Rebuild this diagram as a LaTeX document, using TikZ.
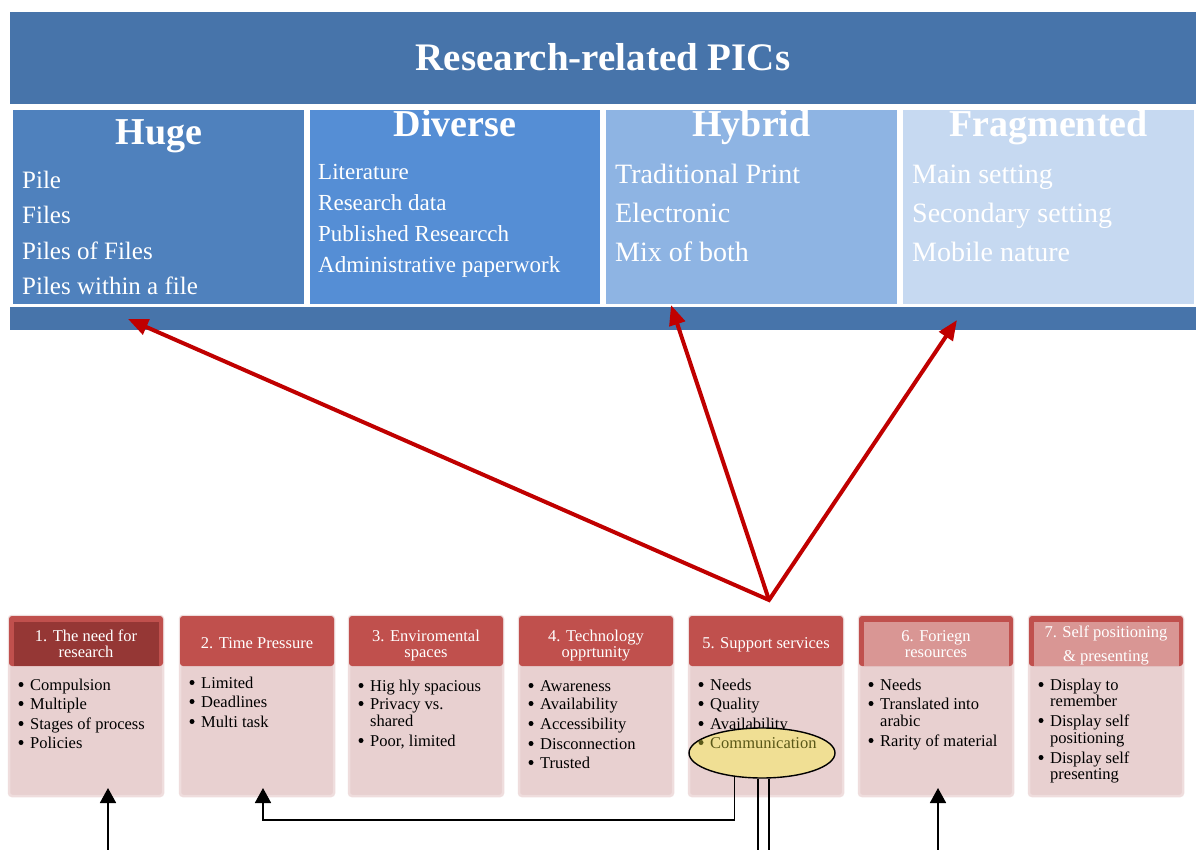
\documentclass[tikz,border=0pt]{standalone}
\usepackage{fontspec}
\setmainfont{Liberation Serif}
\usetikzlibrary{arrows.meta,shapes.geometric}
\definecolor{banner}{HTML}{4774AA}
\definecolor{colA}{HTML}{4F81BD}
\definecolor{colB}{HTML}{558ED5}
\definecolor{colC}{HTML}{8EB4E3}
\definecolor{colD}{HTML}{C6D9F1}
\definecolor{hdr}{HTML}{C0504D}
\definecolor{hdrdark}{HTML}{953735}
\definecolor{hdrlight}{HTML}{D99694}
\definecolor{bodyfill}{HTML}{E8D0D0}
\definecolor{bodyrim}{HTML}{EFDDDD}
\definecolor{arrowred}{HTML}{C00000}
\definecolor{ellfill}{HTML}{F0DF94}
\definecolor{olivetext}{HTML}{5A5818}
\newcommand\bul[4]{%
  \node[bulletdot] (#1b) at ({#2-1},{#3-5.5}) {};
  \node[bitem] (#1) at ({#2+8},#3) {#4};}
\begin{document}
\begin{tikzpicture}[x=1pt,y=-1pt,
  panel/.style={inner sep=0pt,outer sep=0pt,anchor=north west,draw=none},
  ctitle/.style={text=white,font=\fontsize{38}{44}\selectfont\bfseries,anchor=base,inner sep=0pt},
  itemA/.style={text=white,font=\fontsize{25}{30}\selectfont,anchor=base west,inner sep=0pt},
  itemB/.style={text=white,font=\fontsize{23}{28}\selectfont,anchor=base west,inner sep=0pt},
  itemC/.style={text=white,font=\fontsize{28}{32}\selectfont,anchor=base west,inner sep=0pt},
  boxbody/.style={panel,fill=bodyfill,draw=bodyrim,line width=2.5pt,rounded corners=3pt,minimum width=154,minimum height=180},
  boxhead/.style={panel,fill=hdr,rounded corners=3pt,minimum width=154,minimum height=50},
  boxinner/.style={panel,minimum width=145,minimum height=44},
  htext/.style={text=white,font=\fontsize{16.5}{17}\selectfont,anchor=base,inner sep=0pt},
  bitem/.style={text=black,font=\fontsize{16.5}{17}\selectfont,anchor=base west,inner sep=0pt},
  bulletdot/.style={circle,fill=black,draw=none,minimum size=5pt,inner sep=0pt,outer sep=0pt},
  redarrow/.style={draw=arrowred,line width=4pt,line join=miter},
  blk/.style={draw=black,line width=1.8pt},
  blkarrow/.style={blk,-{Triangle[length=15pt,width=16pt]}}
]
\useasboundingbox[fill=white] (0,0) rectangle (1200,850);

% ---------- top panel ----------
\node[panel,fill=banner,minimum width=1186,minimum height=92] (banner) at (10,12) {};
\node[text=white,font=\fontsize{39}{44}\selectfont\bfseries,anchor=base,inner sep=0pt] (title) at (603,71) {Research-related PICs};
\node[panel,fill=banner,minimum width=1186,minimum height=23] (bar) at (10,307) {};

\node[panel,fill=colA,minimum width=291,minimum height=194] (colHuge) at (13,110) {};
\node[panel,fill=colB,minimum width=290,minimum height=194] (colDiverse) at (310,110) {};
\node[panel,fill=colC,minimum width=291,minimum height=194] (colHybrid) at (606,110) {};
\node[panel,fill=colD,minimum width=291,minimum height=194] (colFrag) at (903,110) {};

\node[ctitle] (tHuge) at (159,145) {Huge};
\node[ctitle] (tDiverse) at (455,137) {Diverse};
\node[ctitle] (tHybrid) at (751.5,137) {Hybrid};
\node[ctitle] (tFrag) at (1048.5,137) {Fragmented};

\node[itemA] (a1) at (22,189) {Pile};
\node[itemA] (a2) at (22,224) {Files};
\node[itemA] (a3) at (22,260) {Piles of Files};
\node[itemA] (a4) at (22,295) {Piles within a file};

\node[itemB] (d1) at (318,180) {Literature};
\node[itemB] (d2) at (318,211) {Research data};
\node[itemB] (d3) at (318,242) {Published Researcch};
\node[itemB] (d4) at (318,273) {Administrative paperwork};

\node[itemC] (y1) at (615,184) {Traditional Print};
\node[itemC] (y2) at (615,223) {Electronic};
\node[itemC] (y3) at (615,262) {Mix of both};

\node[itemC] (f1) at (912,184) {Main setting};
\node[itemC] (f2) at (912,223) {Secondary setting};
\node[itemC] (f3) at (912,262) {Mobile nature};

% ---------- red arrows ----------
\coordinate (apex) at (769,600);
\coordinate (tipHuge) at (128,319);
\coordinate (tipHybrid) at (671,305);
\coordinate (tipFrag) at (957,320);
\draw[redarrow,{Triangle[length=20pt,width=16pt]}-{Triangle[length=20pt,width=16pt]}] (tipHuge) -- (apex) -- (tipFrag);
\draw[redarrow,-{Triangle[length=20pt,width=16pt]}] (apex) -- (tipHybrid);

% ---------- bottom boxes ----------
\foreach \L/\n in {9/1,180/2,349/3,519/4,689/5,859/6,1029/7}{
  \node[boxbody] (body\n) at (\L,616) {};
  \node[boxhead] (head\n) at (\L,616) {};
}
\node[boxinner,fill=hdrdark] (inner1) at (13.5,622) {};
\node[boxinner,fill=hdrlight] (inner6) at (863.5,622) {};
\node[boxinner,fill=hdrlight] (inner7) at (1033.5,622) {};

\node[htext] (h1a) at (86,641) {1. The need for};
\node[htext] (h1b) at (86,657) {research};
\node[htext] (h2a) at (257,648) {2. Time Pressure};
\node[htext] (h3a) at (426,641) {3. Enviromental};
\node[htext] (h3b) at (426,657) {spaces};
\node[htext] (h4a) at (596,641) {4. Technology};
\node[htext] (h4b) at (596,657) {opprtunity};
\node[htext] (h5a) at (766,648) {5. Support services};
\node[htext] (h6a) at (936,641) {6. Foriegn};
\node[htext] (h6b) at (936,657) {resources};
\node[htext] (h7a) at (1106,637) {7. Self positioning};
\node[htext] (h7b) at (1106,661) {\& presenting};

% box 1
\bul{p1}{22}{690}{Compulsion}
\bul{p2}{22}{709}{Multiple}
\bul{p3}{22}{729}{Stages of process}
\bul{p4}{22}{748}{Policies}
% box 2
\bul{q1}{193}{688}{Limited}
\bul{q2}{193}{707}{Deadlines}
\bul{q3}{193}{727}{Multi task}
% box 3
\bul{r1}{362}{691}{Hig hly spacious}
\bul{r2}{362}{709}{Privacy vs.}
\node[bitem] (r2b) at (370,726) {shared};
\bul{r3}{362}{746}{Poor, limited}
% box 4
\bul{s1}{532}{691}{Awareness}
\bul{s2}{532}{709}{Availability}
\bul{s3}{532}{729}{Accessibility}
\bul{s4}{532}{749}{Disconnection}
\bul{s5}{532}{768}{Trusted}
% box 5
\bul{u1}{702}{690}{Needs}
\bul{u2}{702}{709}{Quality}
\bul{u3}{702}{729}{Availability}
% box 6
\bul{v1}{872}{690}{Needs}
\bul{v2}{872}{709}{Translated into}
\node[bitem] (v2b) at (880,726) {arabic};
\bul{v3}{872}{746}{Rarity of material}
% box 7
\bul{w1}{1042}{690}{Display to}
\node[bitem] (w1b) at (1050,706) {remember};
\bul{w2}{1042}{726}{Display self}
\node[bitem] (w2b) at (1050,743) {positioning};
\bul{w3}{1042}{763}{Display self}
\node[bitem] (w3b) at (1050,779) {presenting};

% ---------- ellipse ----------
\node[ellipse,draw=black,fill=ellfill,line width=1.4pt,minimum width=146,minimum height=50,inner sep=0pt] (ell) at (762,753) {};
\node[bulletdot,fill=olivetext] (u4b) at (701,742.5) {};
\node[bitem,text=olivetext] (u4) at (710,748) {Communication};

% ---------- black connectors ----------
\coordinate (bottom) at (0,850);
\coordinate (t1) at (108,788);
\coordinate (t2) at (263,788);
\coordinate (t6) at (938,788);
\draw[blkarrow] (t1 |- bottom) -- (t1);
\draw[blkarrow] (ell.221) -- ++(0,43) -| (t2);
\draw[blk] (ell.261) -- (ell.261 |- bottom);
\draw[blk] (ell.285) -- (ell.285 |- bottom);
\draw[blkarrow] (t6 |- bottom) -- (t6);
\end{tikzpicture}
\end{document}
